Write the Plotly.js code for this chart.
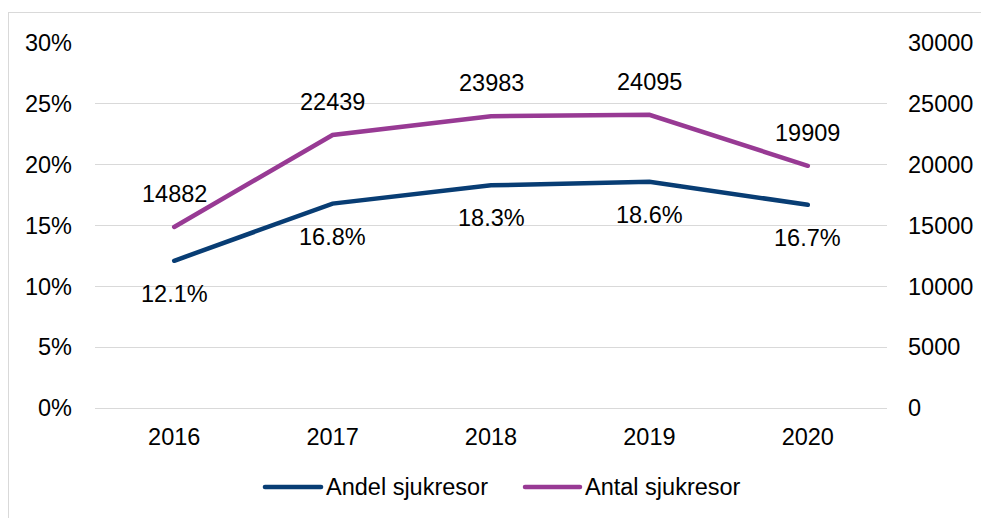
<!DOCTYPE html>
<html>
<head>
<meta charset="utf-8">
<script src="https://cdn.plot.ly/plotly-3.0.1.min.js"></script>
<style>
html,body{margin:0;padding:0;background:#fff;overflow:hidden;}
#frame{position:absolute;left:8px;top:12px;width:1200px;height:800px;border:1px solid #d9d9d9;box-sizing:border-box;pointer-events:none;}
#chart{position:absolute;left:0;top:0;width:981px;height:518px;}
#chart .js-line{stroke-linecap:round !important;}
#chart .shapelayer path{stroke-linecap:round !important;}
</style>
</head>
<body>
<div id="chart"></div>
<div id="frame"></div>
<script>
const years = ['2016','2017','2018','2019','2020'];
const andel = [0.121, 0.168, 0.183, 0.186, 0.167];
const antal = [14882, 22439, 23983, 24095, 19909];
const seriesNames = ['Andel sjukresor', 'Antal sjukresor'];
const seriesColors = ['#083d74', '#983a94'];
const pctTicks = [0, 0.05, 0.10, 0.15, 0.20, 0.25, 0.30];
const cntTicks = [0, 5000, 10000, 15000, 20000, 25000, 30000];

const FONT = 'Liberation Sans, Arial, sans-serif';
const FS = 23.5;

const traces = [
  {x: years, y: andel, type: 'scatter', mode: 'lines', name: seriesNames[0],
   line: {color: seriesColors[0], width: 4.5}, yaxis: 'y', hoverinfo: 'skip'},
  {x: years, y: antal, type: 'scatter', mode: 'lines', name: seriesNames[1],
   line: {color: seriesColors[1], width: 4.5}, yaxis: 'y2', hoverinfo: 'skip'}
];

const annotations = [];
years.forEach((yr, i) => {
  annotations.push({x: i, y: andel[i], xref: 'x', yref: 'y', showarrow: false,
    text: (andel[i] * 100).toFixed(1) + '%', yshift: -33, yanchor: 'middle',
    font: {family: FONT, size: FS, color: '#000'}});
  annotations.push({x: i, y: antal[i], xref: 'x', yref: 'y2', showarrow: false,
    text: String(antal[i]), yshift: 33, yanchor: 'middle',
    font: {family: FONT, size: FS, color: '#000'}});
});

// custom legend
const legendX = [[0.2146, 0.2854, 0.2891], [0.5429, 0.6124, 0.6162]];
const legendY = -0.2164;
const shapes = [];
seriesNames.forEach((n, k) => {
  shapes.push({type: 'line', xref: 'paper', yref: 'paper',
    x0: legendX[k][0], x1: legendX[k][1], y0: legendY, y1: legendY,
    line: {color: seriesColors[k], width: 4.5}});
  annotations.push({xref: 'paper', yref: 'paper', x: legendX[k][2], y: legendY,
    xanchor: 'left', yanchor: 'middle', showarrow: false, text: n,
    font: {family: FONT, size: FS, color: '#000'}});
});

const layout = {
  width: 981, height: 518,
  margin: {l: 95, r: 94, t: 43, b: 110},
  paper_bgcolor: '#fff', plot_bgcolor: '#fff',
  showlegend: false,
  font: {family: FONT, size: FS, color: '#000'},
  xaxis: {type: 'category', range: [-0.5, 4.5], showgrid: false, zeroline: false,
    showline: false, ticks: '', ticklabelstandoff: 12, fixedrange: true,
    tickfont: {family: FONT, size: FS, color: '#000'}},
  yaxis: {range: [0, 0.3], tickvals: pctTicks, tickformat: '.0%',
    showgrid: true, gridcolor: '#d9d9d9', gridwidth: 1,
    zeroline: true, zerolinecolor: '#d9d9d9', zerolinewidth: 1,
    showline: false, ticks: '', ticklabelstandoff: 22, fixedrange: true,
    tickfont: {family: FONT, size: FS, color: '#000'}},
  yaxis2: {range: [0, 30000], tickvals: cntTicks, overlaying: 'y', side: 'right',
    showgrid: false, zeroline: false, showline: false, ticks: '',
    ticklabelstandoff: 20, fixedrange: true, tickformat: 'd',
    tickfont: {family: FONT, size: FS, color: '#000'}},
  annotations: annotations,
  shapes: shapes
};

Plotly.newPlot('chart', traces, layout, {staticPlot: true, displayModeBar: false});
</script>
</body>
</html>
